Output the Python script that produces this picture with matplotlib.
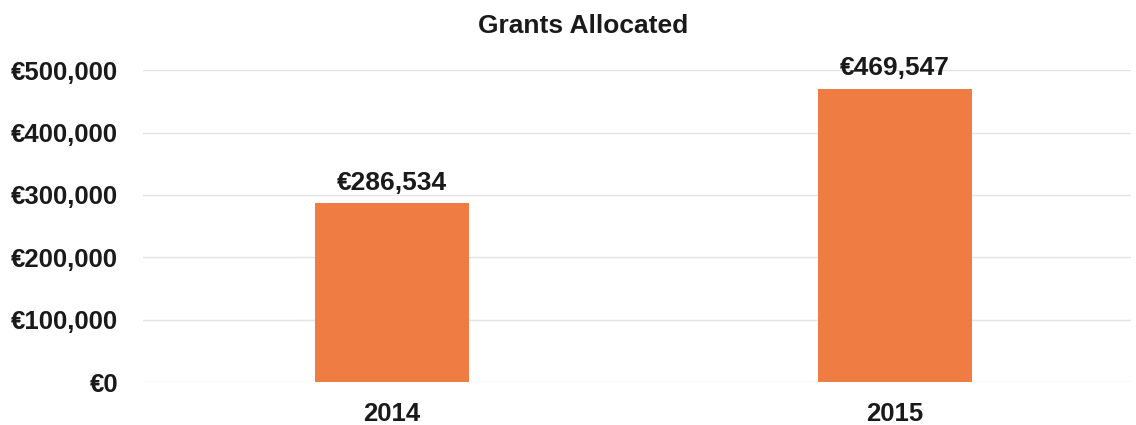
import matplotlib.pyplot as plt
from matplotlib.ticker import FuncFormatter

# Data
years = ["2014", "2015"]
grants = [286534, 469547]
y_ticks = [0, 100000, 200000, 300000, 400000, 500000]

BAR_COLOR = "#EF7D43"
FONT = ["Liberation Sans", "DejaVu Sans"]

plt.rcParams["font.family"] = FONT

fig = plt.figure(figsize=(11.36, 4.25), dpi=100)
ax = fig.add_axes([0.126, 0.101, 0.87, 0.734])

x = range(len(years))
bars = ax.bar(x, grants, width=0.305, color=BAR_COLOR, zorder=3)

for rect, val in zip(bars, grants):
    ax.text(rect.get_x() + rect.get_width() / 2, val + 14000, f"€{val:,}",
            ha="center", va="bottom", fontsize=19, fontweight="bold",
            color="#1a1a1a", clip_on=False)

ax.set_xlim(-0.495, 1.47)
ax.set_ylim(0, 500000)
ax.set_yticks(y_ticks)
ax.yaxis.set_major_formatter(FuncFormatter(lambda v, p: f"€{int(v):,}"))
ax.set_xticks(list(x))
ax.set_xticklabels(years)

ax.grid(axis="y", color="#e4e4e4", linewidth=1, zorder=0)
for s in ax.spines.values():
    s.set_visible(False)
ax.tick_params(length=0, labelsize=18.5, colors="#1a1a1a")
ax.tick_params(axis="y", pad=18)
ax.tick_params(axis="x", pad=14)
for lab in ax.get_xticklabels() + ax.get_yticklabels():
    lab.set_fontweight("bold")

fig.suptitle("Grants Allocated", x=0.513, y=0.968, fontsize=19, fontweight="bold", color="#1a1a1a")

plt.savefig("out.png", dpi=100)
